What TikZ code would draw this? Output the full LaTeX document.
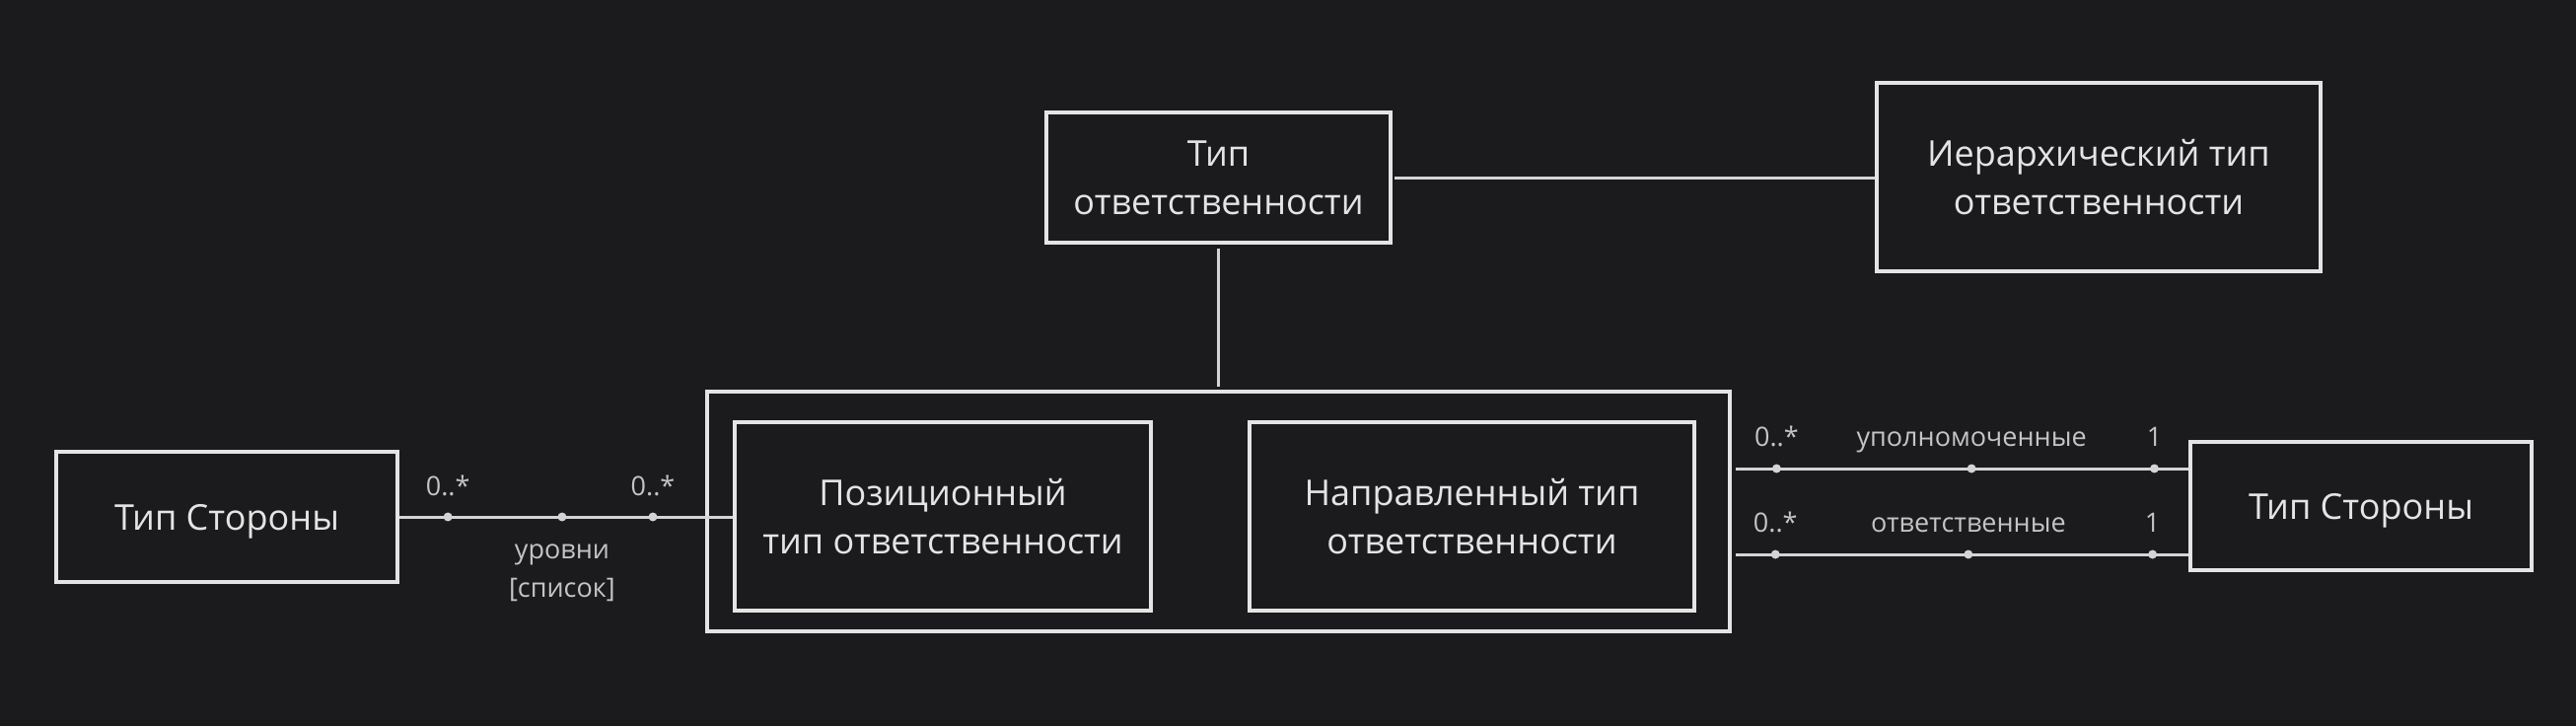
\documentclass[tikz,border=0pt]{standalone}
\usepackage{fontspec}
\setmainfont{Open Sans}
\usetikzlibrary{calc}
\definecolor{bg}{HTML}{1B1B1D}
\definecolor{fg}{HTML}{E4E4E4}
\definecolor{lc}{HTML}{D4D4D4}
\definecolor{lt}{HTML}{C4C4C4}
\tikzset{
  box/.style={draw=fg, line width=3.5pt, fill=bg, text=fg, align=center,
    font=\fontsize{36}{49}\selectfont, inner sep=0pt},
  conn/.style={draw=lc, line width=3pt},
  dotm/.style={circle, fill=lc, draw=none, inner sep=0pt, minimum size=9pt},
  lbl/.style={text=lt, font=\fontsize{27}{40}\selectfont, anchor=base, inner sep=0pt},
}
\begin{document}
\begin{tikzpicture}[x=1pt,y=-1pt]
\fill[bg] (0,0) rectangle (2612,736);
\useasboundingbox (0,0) rectangle (2612,736);

\node[box, text depth=0pt, minimum width=346pt, minimum height=132pt] (left) at (230,524) {Тип Стороны};
\node[box, minimum width=349pt, minimum height=132pt] (ctr) at (1235.5,180) {Тип\\ответственности};
\node[box, minimum width=450pt, minimum height=191pt] (hier) at (2128,179.5) {Иерархический тип\\ответственности};
\node[box, minimum width=1037pt, minimum height=243pt] (outer) at (1235.5,518.5) {};
\node[box, minimum width=422pt, minimum height=191pt] (in1) at (956,523.5) {Позиционный\\тип ответственности};
\node[box, minimum width=451pt, minimum height=191pt] (in2) at (1492.5,523.5) {Направленный тип\\ответственности};
\node[box, text depth=0pt, minimum width=346pt, minimum height=130pt] (right) at (2394,513) {Тип Стороны};

% top connectors
\draw[conn, shorten <=4pt, shorten >=3pt] (ctr.south) -- (outer.north);
\draw[conn, shorten <=2pt] (ctr.east) -- (ctr.east -| hier.west);

% left association
\draw[conn] (left.east) -- (left.east -| in1.west)
  node[dotm, pos=0.146] (a1) {}
  node[dotm, pos=0.488] (a2) {}
  node[dotm, pos=0.760] (a3) {};
\node[lbl] (la1) at ($(a1)+(0,-22)$) {0..*};
\node[lbl] (la3) at ($(a3)+(0,-22)$) {0..*};
\node[lbl] (la2) at ($(a2)+(0,42)$) {уровни};
\node[lbl] (la2b) at ($(a2)+(0,81)$) {[список]};

% right associations
\coordinate (u) at (0,475);
\coordinate (w) at (0,562);
\draw[conn, shorten <=4pt] (outer.east |- u) -- (right.west |- u)
  node[dotm, pos=0.0985] (b1) {}
  node[dotm, pos=0.525] (b2) {}
  node[dotm, pos=0.925] (b3) {};
\draw[conn, shorten <=4pt] (outer.east |- w) -- (right.west |- w)
  node[dotm, pos=0.096] (c1) {}
  node[dotm, pos=0.518] (c2) {}
  node[dotm, pos=0.921] (c3) {};
\node[lbl] (lb1) at ($(b1)+(0,-23)$) {0..*};
\node[lbl] (lb2) at ($(b2)+(0,-23)$) {уполномоченные};
\node[lbl] (lb3) at ($(b3)+(0,-23)$) {1};
\node[lbl] (lc1) at ($(c1)+(0,-23)$) {0..*};
\node[lbl] (lc2) at ($(c2)+(0,-23)$) {ответственные};
\node[lbl] (lc3) at ($(c3)+(0,-23)$) {1};
\end{tikzpicture}
\end{document}
